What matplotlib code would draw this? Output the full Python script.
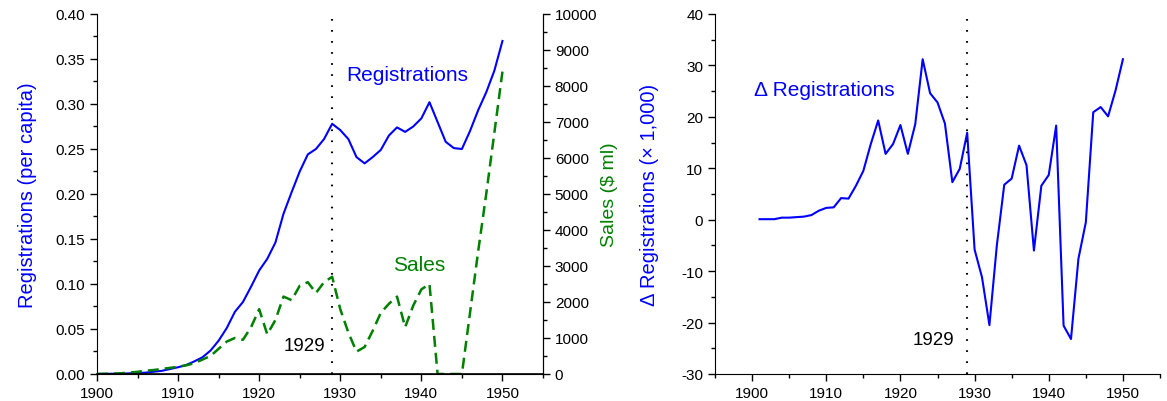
import matplotlib
matplotlib.use("Agg")
import matplotlib.pyplot as plt
from matplotlib.ticker import MultipleLocator

plt.rcParams['font.family'] = ['Liberation Sans', 'DejaVu Sans']
plt.rcParams['axes.unicode_minus'] = False

# Datos
years = list(range(1900, 1951))

registrations = [0.0001, 0.0002, 0.0003, 0.0004, 0.0007, 0.001, 0.0015, 0.0025, 0.0035, 0.0055,
                 0.0075, 0.010, 0.014, 0.0185, 0.026, 0.037, 0.051, 0.069, 0.080, 0.097,
                 0.115, 0.128, 0.146, 0.178, 0.202, 0.225, 0.244, 0.250, 0.261, 0.278,
                 0.271, 0.261, 0.241, 0.234, 0.241, 0.249, 0.265, 0.274, 0.269, 0.275,
                 0.284, 0.302, 0.280, 0.258, 0.251, 0.250, 0.270, 0.293, 0.313, 0.337,
                 0.370]

sales = [0, 5, 10, 20, 40, 60, 90, 110, 140, 170,
         200, 240, 300, 400, 500, 700, 900, 1000, 950, 1300,
         1800, 1100, 1500, 2150, 2050, 2450, 2550, 2250, 2550, 2700,
         1800, 1150, 620, 750, 1200, 1700, 1950, 2150, 1300, 1900,
         2350, 2500, 0, 0, 0, 0, 1700, 3400, 5000, 6700,
         8400]

delta_years = list(range(1901, 1951))
delta_reg = [0.1, 0.1, 0.1, 0.4, 0.4, 0.5, 0.6, 0.9, 1.75, 2.3,
             2.4, 4.2, 4.1, 6.6, 9.5, 14.7, 19.3, 12.8, 14.7, 18.4,
             12.8, 18.6, 31.2, 24.6, 22.8, 18.7, 7.3, 9.9, 16.9, -5.8,
             -11.2, -20.5, -5.0, 6.8, 8.0, 14.4, 10.6, -6.0, 6.6, 8.7,
             18.3, -20.6, -23.2, -7.6, -0.5, 20.9, 21.9, 20.1, 25.1, 31.2]

crash_year = 1929

BLUE = '#0000FF'
GREEN = '#008000'


def style_axis(ax):
    ax.spines['top'].set_visible(False)
    ax.tick_params(direction='out', labelsize=11, length=5, width=1)
    ax.tick_params(which='minor', direction='out', length=3, width=1)


fig = plt.figure(figsize=(11.67, 4.02), dpi=100)

# Panel izquierdo
ax1 = fig.add_axes([0.0831, 0.0672, 0.3822, 0.8955])
ax1.plot(years, registrations, color=BLUE, lw=1.5)
ax1.axvline(crash_year, color='black', lw=1.5, linestyle=(0, (0.8, 4.5)))
ax1.set_xlim(1900, 1955)
ax1.set_ylim(0, 0.40)
ax1.xaxis.set_major_locator(MultipleLocator(10))
ax1.xaxis.set_minor_locator(MultipleLocator(5))
ax1.yaxis.set_major_locator(MultipleLocator(0.05))
ax1.yaxis.set_minor_locator(MultipleLocator(0.025))
ax1.yaxis.set_major_formatter(plt.FormatStrFormatter('%.2f'))
ax1.set_ylabel("Registrations (per capita)", color=BLUE, fontsize=14.5, labelpad=13)
style_axis(ax1)
ax1.text(1930.7, 0.333, "Registrations", color=BLUE, fontsize=15, va='center', ha='left')
ax1.text(1928.1, 0.032, "1929", color='black', fontsize=13.5, va='center', ha='right')

ax2 = ax1.twinx()
ax2.plot(years, sales, color=GREEN, lw=1.8, linestyle=(0, (4.4, 2.4)))
ax2.set_ylim(0, 10000)
ax2.yaxis.set_major_locator(MultipleLocator(1000))
ax2.yaxis.set_minor_locator(MultipleLocator(500))
ax2.set_ylabel("Sales ($ ml)", color=GREEN, fontsize=14, labelpad=3)
ax2.spines['top'].set_visible(False)
ax2.spines['left'].set_visible(False)
ax2.spines['bottom'].set_linewidth(1.2)
ax2.tick_params(direction='out', labelsize=11, length=5, width=1)
ax2.tick_params(which='minor', direction='out', length=3, width=1)
ax2.text(1936.5, 3055, "Sales", color=GREEN, fontsize=15, va='center', ha='left')

# Panel derecho
ax3 = fig.add_axes([0.6127, 0.0672, 0.3813, 0.8955])
ax3.plot(delta_years, delta_reg, color=BLUE, lw=1.5)
ax3.axvline(crash_year, color='black', lw=1.5, linestyle=(0, (0.8, 4.5)))
ax3.set_xlim(1895, 1955)
ax3.set_ylim(-30, 40)
ax3.xaxis.set_major_locator(MultipleLocator(10))
ax3.xaxis.set_minor_locator(MultipleLocator(5))
ax3.yaxis.set_major_locator(MultipleLocator(10))
ax3.yaxis.set_minor_locator(MultipleLocator(5))
ax3.spines['right'].set_visible(False)
ax3.set_ylabel("\u0394 Registrations (\u00d7 1,000)", color=BLUE, fontsize=14.5, labelpad=16)
style_axis(ax3)
ax3.text(1900.3, 25.4, "\u0394 Registrations", color=BLUE, fontsize=15, va='center', ha='left')
ax3.text(1927.3, -23.2, "1929", color='black', fontsize=13.5, va='center', ha='right')

fig.savefig("out.png", dpi=100)
